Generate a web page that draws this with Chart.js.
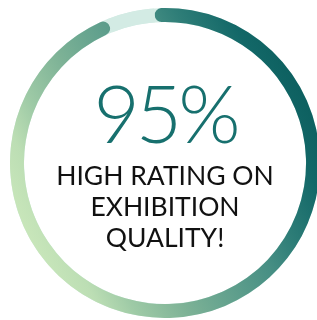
<!DOCTYPE html>
<html>
<head>
<meta charset="utf-8">
<script src="https://cdn.jsdelivr.net/npm/chart.js@4/dist/chart.umd.min.js"></script>
<style>
    html, body { margin: 0; padding: 0; background: #fff; overflow: hidden; }
    #wrap { position: relative; width: 317px; height: 320px; overflow: hidden; }
    #ratingChart { position: absolute; left: 10px; top: 8px; }
    .big {
        position: absolute; left: 0; width: 330px; top: 72px;
        text-align: center; font-family: Lato, sans-serif; font-weight: 300;
        font-size: 80px; line-height: 80px; color: #17706e; letter-spacing: -4px;
    }
    .caption {
        position: absolute; left: 0; width: 330px; top: 160px;
        text-align: center; font-family: Lato, sans-serif; font-weight: 400;
        font-size: 26.5px; line-height: 31px; color: #111;
    }
</style>
</head>
<body>
<div id="wrap">
    <canvas id="ratingChart" width="310" height="310"></canvas>
    <div class="big">95%</div>
    <div class="caption">HIGH RATING ON<br>EXHIBITION<br>QUALITY!</div>
</div>
<script>
const labels = ["High rating", "Other"];
const values = [95, 5];

const trackColor = "#d3ebe4";
const gradientStops = [
    [0, "#c8e6ba"],
    [0.1, "#bcdeb4"],
    [0.2, "#9ecaa6"],
    [0.35, "#7db296"],
    [0.45, "#6aa690"],
    [0.65, "#478f84"],
    [0.75, "#2f7e78"],
    [0.9, "#136868"],
    [1, "#0d6060"]
];

function ringGradient(context) {
    const chart = context.chart;
    const area = chart.chartArea;
    if (!area) return "#6aa690";
    const cx = (area.left + area.right) / 2;
    const cy = (area.top + area.bottom) / 2;
    const r = Math.min(area.width, area.height) / 2;
    // light at bottom-left, dark at top-right
    const ux = 2 / Math.sqrt(5), uy = -1 / Math.sqrt(5);
    const g = chart.ctx.createLinearGradient(cx - r * ux, cy - r * uy, cx + r * ux, cy + r * uy);
    gradientStops.forEach(s => g.addColorStop(s[0], s[1]));
    return g;
}

// full pale ring under the arcs, so the round caps sit on the track
const trackPlugin = {
    id: "track",
    beforeDatasetsDraw(chart) {
        const arc = chart.getDatasetMeta(0).data[0];
        if (!arc) return;
        const { x, y, innerRadius, outerRadius } = arc.getProps(["x", "y", "innerRadius", "outerRadius"], true);
        const ctx = chart.ctx;
        ctx.save();
        ctx.beginPath();
        ctx.arc(x, y, outerRadius, 0, Math.PI * 2);
        ctx.arc(x, y, innerRadius, Math.PI * 2, 0, true);
        ctx.closePath();
        ctx.fillStyle = trackColor;
        ctx.fill();
        ctx.restore();
    }
};

new Chart(document.getElementById("ratingChart"), {
    type: "doughnut",
    data: {
        labels: labels,
        datasets: [{
            data: values,
            backgroundColor: c => c.dataIndex === 0 ? ringGradient(c) : trackColor,
            borderWidth: 0,
            borderRadius: c => c.dataIndex === 0 ? 7 : 0
        }]
    },
    options: {
        responsive: false,
        animation: false,
        cutout: "91%",
        rotation: -4,
        layout: { padding: 0 },
        plugins: {
            legend: { display: false },
            tooltip: { enabled: false }
        }
    },
    plugins: [trackPlugin]
});
</script>
</body>
</html>
